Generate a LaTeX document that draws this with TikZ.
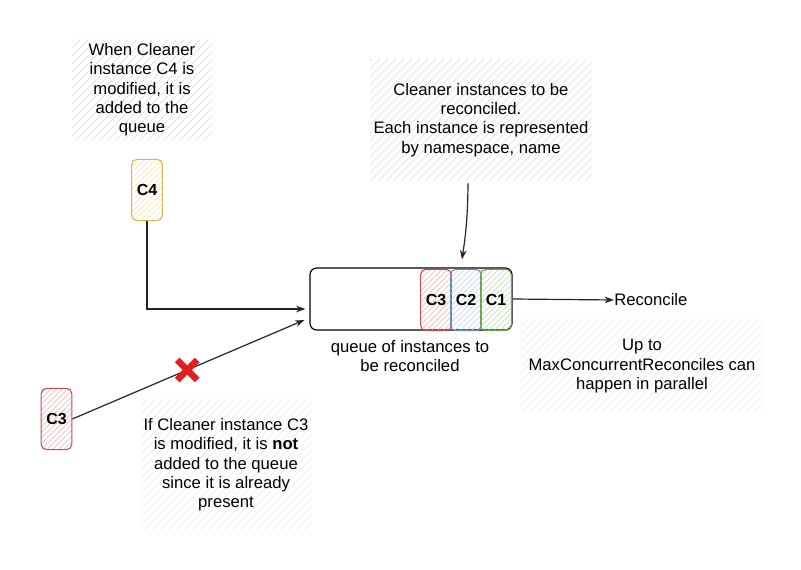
\documentclass[tikz,border=0pt]{standalone}
\usepackage{fontspec}
\setmainfont{Liberation Sans}
\usetikzlibrary{arrows.meta,patterns.meta,positioning}
\definecolor{hatchgray}{HTML}{DCDCDC}
\definecolor{yelS}{HTML}{D6B656}
\definecolor{yelF}{HTML}{F7E3A6}
\definecolor{redS}{HTML}{C0504D}
\definecolor{redF}{HTML}{F2AAAA}
\definecolor{bluS}{HTML}{6C8EBF}
\definecolor{bluF}{HTML}{B9CFF0}
\definecolor{grnS}{HTML}{6AA84F}
\definecolor{grnF}{HTML}{B7D7A8}
\definecolor{xred}{HTML}{E02020}
\tikzset{
  note/.style={draw=none, pattern={Lines[angle=45,distance=4pt,line width=0.35pt]}, pattern color=hatchgray,
    inner sep=0pt},
  notetext/.style={align=center, font=\fontsize{12.5}{14.5}\selectfont, inner sep=0pt},
  item/.style={rounded corners=4pt, line width=0.8pt, minimum width=23pt, minimum height=46pt, inner sep=0pt,
    font=\bfseries\fontsize{12}{13}\selectfont},
  itemY/.style={item, draw=yelS, pattern={Lines[angle=45,distance=3pt,line width=0.4pt]}, pattern color=yelF},
  itemR/.style={item, draw=redS, pattern={Lines[angle=45,distance=3pt,line width=0.4pt]}, pattern color=redF},
  itemB/.style={item, draw=bluS, pattern={Lines[angle=45,distance=3pt,line width=0.4pt]}, pattern color=bluF},
  itemG/.style={item, draw=grnS, pattern={Lines[angle=45,distance=3pt,line width=0.4pt]}, pattern color=grnF},
  conn/.style={line width=0.9pt, draw=black!85, -{Stealth[length=7pt,width=5pt]}},
  plainlabel/.style={font=\fontsize{12.5}{14.5}\selectfont, align=center, inner sep=0pt},
}
\begin{document}
\begin{tikzpicture}[x=0.75pt, y=-0.75pt]
\fill[white] (0,0) rectangle (801,570);
\useasboundingbox (0,0) rectangle (801,570);

% notes (hatched backgrounds)
\node[note, minimum width=105pt, minimum height=75pt] (n1) at (142,90) {};
\node[notetext] (t1) at (n1.center) {When Cleaner\\instance C4 is\\modified, it is\\added to the\\queue};

\node[note, minimum width=166.5pt, minimum height=90pt] (n2) at (481,120) {};
\node[notetext] (t2) at (n2.center) {Cleaner instances to be\\reconciled.\\Each instance is represented\\by namespace, name};

\node[note, minimum width=180pt, minimum height=70pt] (n3) at (642,366) {};
\node[notetext] (t3) at (n3.center) {Up to\\MaxConcurrentReconciles can\\happen in parallel};

\node[note, minimum width=127pt, minimum height=97.5pt] (n4) at (226,465) {};
\node[notetext] (t4) at (n4.center) {If Cleaner instance C3\\is modified, it is \textbf{not}\\added to the queue\\since it is already\\present};

% queue
\node[draw=black, line width=0.9pt, rounded corners=5pt, minimum width=151.5pt, minimum height=46.5pt, inner sep=0pt] (queue) at (411,299) {};
\node[itemR] (q3) at (436,300) {C3};
\node[itemB] (q2) at (466,300) {C2};
\node[itemG] (q1) at (496,300) {C1};
\node[plainlabel] (qlabel) at (410,356) {queue of instances to\\be reconciled};

% reconcile
\node[plainlabel, anchor=west] (rec) at (614,300) {Reconcile};
\draw[conn] (queue.east) -- (rec.west);

% C4
\node[itemY] (c4) at (147,190) {C4};
\draw[conn] (c4.south) |- ([shift={(-4,10)}]queue.west);

% C3 left
\node[itemR] (c3l) at (56.5,419) {C3};
\draw[conn] (c3l.east) -- coordinate[pos=0.495] (xm) ([shift={(-5,21)}]queue.west);
\draw[xred, line width=5pt] ([shift={(-10,-10)}]xm) -- ([shift={(10,10)}]xm);
\draw[xred, line width=5pt] ([shift={(-10,10)}]xm) -- ([shift={(10,-10)}]xm);

% note to queue
\draw[conn] ([shift={(-13,3)}]n2.south) to[bend left=4] ([shift={(51,-8)}]queue.north);
\end{tikzpicture}
\end{document}
